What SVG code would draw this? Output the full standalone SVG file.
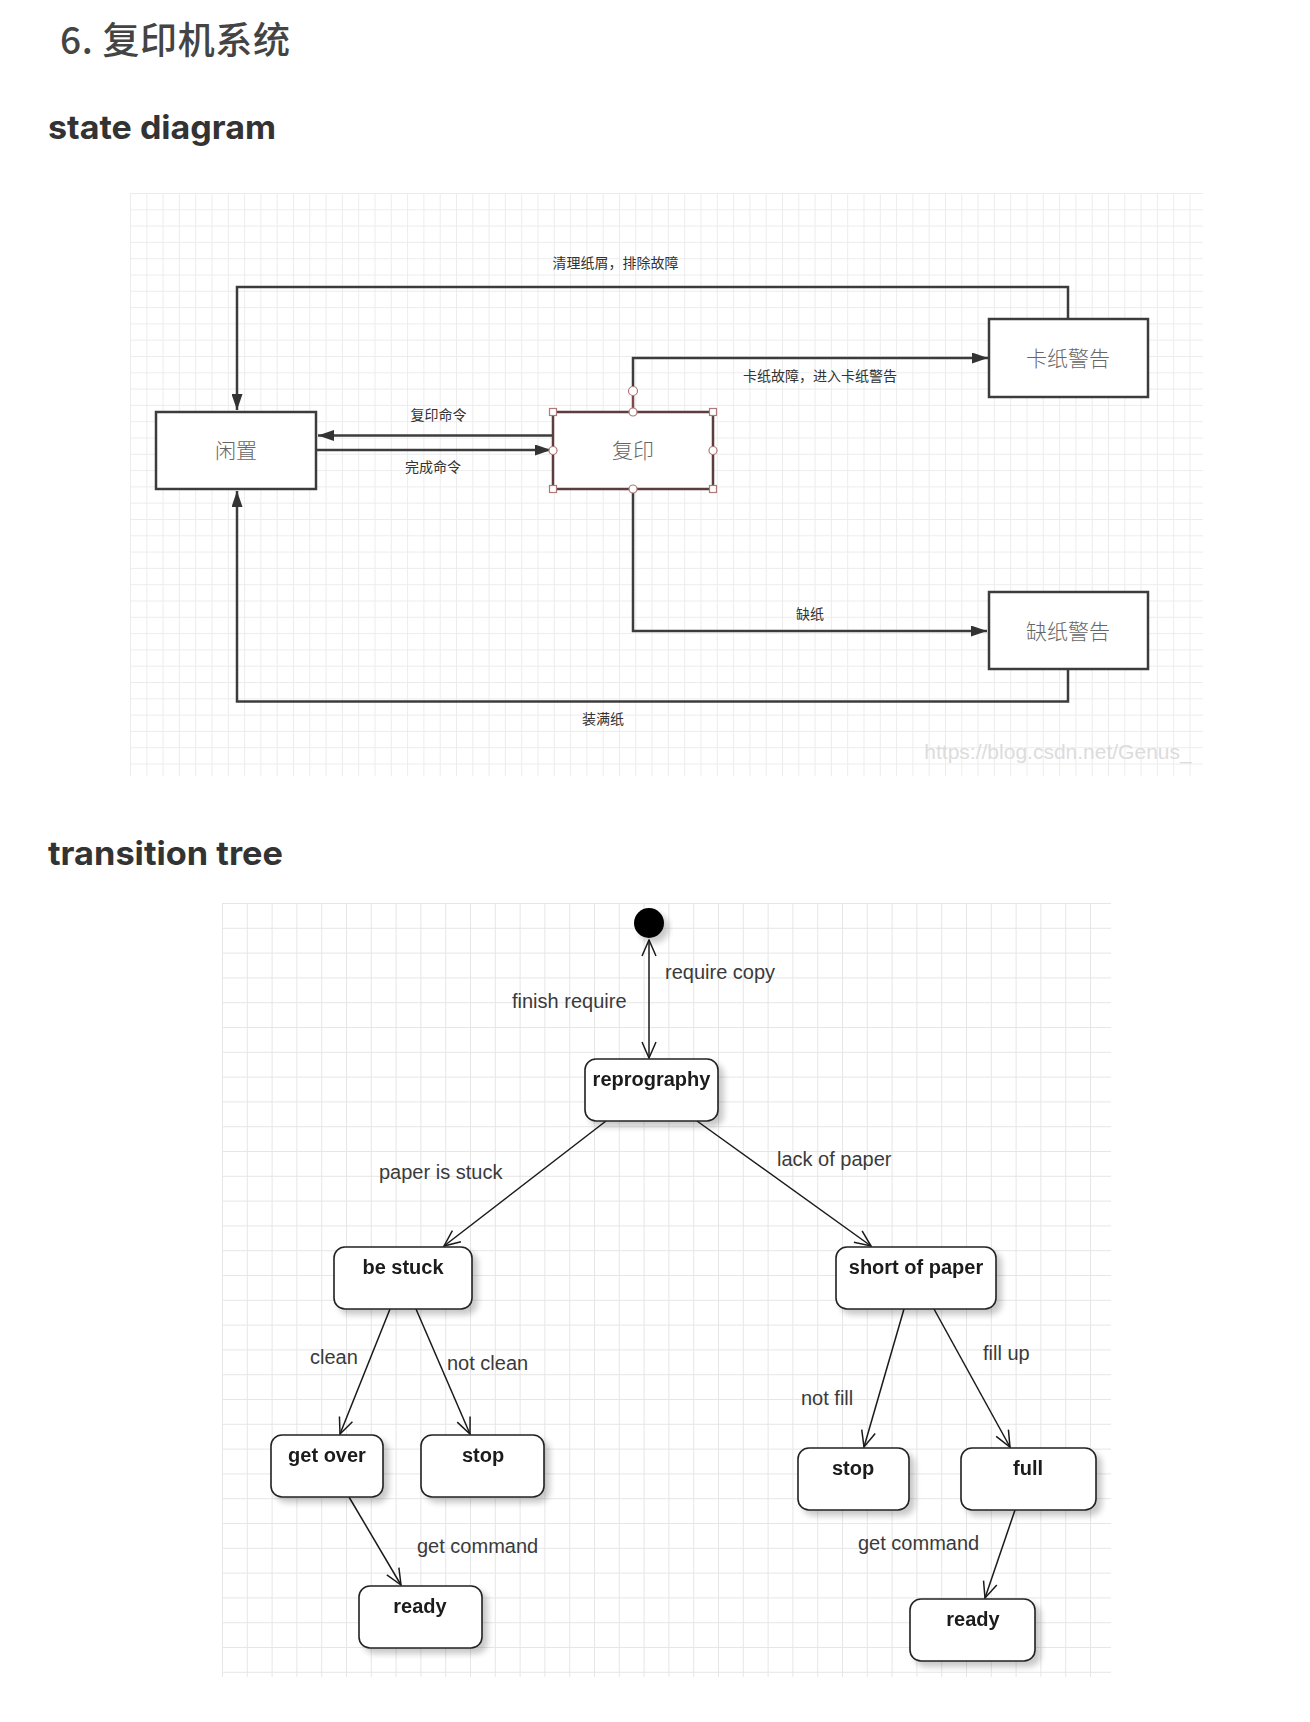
<svg xmlns="http://www.w3.org/2000/svg" width="1310" height="1722" viewBox="0 0 1310 1722">
<defs>
<style>
.h{font-family:Inter,"Liberation Sans","Noto Sans CJK SC",sans-serif;font-weight:700;fill:#333}
.title{font-family:"Noto Sans CJK SC","Noto Sans",sans-serif;font-weight:500;fill:#444}
.sbox{fill:#fff;stroke:#3c3c3c;stroke-width:2.5}
.sline{fill:none;stroke:#3c3c3c;stroke-width:2.5}
.slabel{font-family:"Noto Sans CJK SC",sans-serif;font-size:14px;fill:#333;text-anchor:middle}
.snode{font-family:"Noto Sans CJK SC",sans-serif;font-size:21px;font-weight:300;fill:#666;text-anchor:middle}
.hdl{fill:#fff;stroke:#b07878;stroke-width:1.2}
.tbox{fill:#fff;stroke:#222;stroke-width:1.6}
.tline{fill:none;stroke:#1a1a1a;stroke-width:1.5}
.tlabel{font-family:"Liberation Sans",Arial,sans-serif;font-size:20px;fill:#3a3a3a}
.tnode{font-family:"Liberation Sans",Arial,sans-serif;font-size:20px;font-weight:700;fill:#1a1a1a;text-anchor:middle}
</style>
<pattern id="g1" x="130" y="193" width="16.3" height="16.3" patternUnits="userSpaceOnUse">
<path d="M0.5 0V16.3M0 0.5H16.3" stroke="#ececec" stroke-width="1"/>
</pattern>
<pattern id="g2" x="222" y="903" width="24.8" height="24.8" patternUnits="userSpaceOnUse">
<path d="M0.5 0V24.8M0 0.5H24.8" stroke="#e6e6e6" stroke-width="1"/>
</pattern>
<marker id="fa" viewBox="0 0 16 11" refX="16" refY="5.5" markerWidth="16" markerHeight="11" markerUnits="userSpaceOnUse" orient="auto">
<path d="M0,0 L16,5.5 L0,11 Z" fill="#333"/>
</marker>
<marker id="va" viewBox="-1 -1 18 16" refX="16" refY="7" markerWidth="18" markerHeight="16" markerUnits="userSpaceOnUse" orient="auto-start-reverse">
<path d="M0,0 L16,7 L0,14" fill="none" stroke="#1a1a1a" stroke-width="1.5"/>
</marker>
<filter id="sh" x="-20%" y="-20%" width="150%" height="170%">
<feGaussianBlur in="SourceAlpha" stdDeviation="3"/>
<feOffset dx="5" dy="5" result="o"/>
<feComponentTransfer><feFuncA type="linear" slope="0.22"/></feComponentTransfer>
<feMerge><feMergeNode/><feMergeNode in="SourceGraphic"/></feMerge>
</filter>
</defs>
<rect width="1310" height="1722" fill="#fff"/>

<text class="title" x="60" y="54" font-size="37" textLength="230" lengthAdjust="spacing">6. 复印机系统</text>
<text class="h" x="48" y="138.5" font-size="33" textLength="228" lengthAdjust="spacingAndGlyphs">state diagram</text>
<text class="h" x="48" y="865" font-size="33" textLength="235" lengthAdjust="spacingAndGlyphs">transition tree</text>

<!-- state diagram -->
<g id="state-diagram">
<rect x="130" y="193" width="1073" height="583" fill="url(#g1)"/>
<text x="1058" y="759" font-family="'Liberation Sans',Arial,sans-serif" font-size="21" fill="#dcdcdc" text-anchor="middle">https://blog.csdn.net/Genus_</text>

<g id="state-connectors">
<path class="sline" d="M1068,319 V287 H237 V410" marker-end="url(#fa)"/>
<path class="sline" d="M633,386 V358 H988" marker-end="url(#fa)"/>
<path class="sline" d="M553,435.5 H318" marker-end="url(#fa)"/>
<path class="sline" d="M316,450 H551" marker-end="url(#fa)"/>
<path class="sline" d="M633,489 V631 H987" marker-end="url(#fa)"/>
<path class="sline" d="M1068,669 V701.5 H237 V491" marker-end="url(#fa)"/>
<text class="slabel" x="615.5" y="268">清理纸屑，排除故障</text>
<text class="slabel" x="820" y="381">卡纸故障，进入卡纸警告</text>
<text class="slabel" x="438.5" y="420">复印命令</text>
<text class="slabel" x="433" y="472">完成命令</text>
<text class="slabel" x="810" y="619">缺纸</text>
<text class="slabel" x="603" y="724">装满纸</text>
</g>

<g id="node-idle">
<rect class="sbox" x="156" y="412" width="160" height="77"/>
<text class="snode" x="236" y="458">闲置</text>
</g>
<g id="node-copy">
<path d="M633,395 V412" stroke="#7a4a4a" stroke-width="2.5"/>
<rect x="553" y="412" width="160" height="77" fill="#fff" stroke="#5b3e3e" stroke-width="2.5"/>
<text class="snode" x="633" y="458">复印</text>
<circle class="hdl" cx="633" cy="391" r="4.5"/>
<rect class="hdl" x="549.5" y="408.5" width="7" height="7"/>
<rect class="hdl" x="709.5" y="408.5" width="7" height="7"/>
<rect class="hdl" x="549.5" y="485.5" width="7" height="7"/>
<rect class="hdl" x="709.5" y="485.5" width="7" height="7"/>
<circle class="hdl" cx="633" cy="412" r="4"/>
<circle class="hdl" cx="633" cy="489" r="4"/>
<circle class="hdl" cx="553" cy="450.5" r="4"/>
<circle class="hdl" cx="713" cy="450.5" r="4"/>
</g>
<g id="node-jam">
<rect class="sbox" x="989" y="319" width="159" height="78"/>
<text class="snode" x="1068" y="366">卡纸警告</text>
</g>
<g id="node-nopaper">
<rect class="sbox" x="989" y="592" width="159" height="77"/>
<text class="snode" x="1068" y="639">缺纸警告</text>
</g>
</g>

<!-- transition tree -->
<g id="transition-tree">
<rect x="222" y="903" width="889" height="774" fill="url(#g2)"/>

<g id="tree-connectors">
<path class="tline" d="M649,940 L649,1058" marker-start="url(#va)" marker-end="url(#va)"/>
<path class="tline" d="M606,1121 L444,1246" marker-end="url(#va)"/>
<path class="tline" d="M697,1121 L871,1246" marker-end="url(#va)"/>
<path class="tline" d="M390,1309 L340,1434" marker-end="url(#va)"/>
<path class="tline" d="M416,1309 L470,1434" marker-end="url(#va)"/>
<path class="tline" d="M904,1309 L864,1447" marker-end="url(#va)"/>
<path class="tline" d="M934,1309 L1010,1447" marker-end="url(#va)"/>
<path class="tline" d="M349,1497 L401,1585" marker-end="url(#va)"/>
<path class="tline" d="M1015,1510 L985,1598" marker-end="url(#va)"/>
<text class="tlabel" x="665" y="979">require copy</text>
<text class="tlabel" x="512" y="1008">finish require</text>
<text class="tlabel" x="379" y="1179">paper is stuck</text>
<text class="tlabel" x="777" y="1166">lack of paper</text>
<text class="tlabel" x="310" y="1364">clean</text>
<text class="tlabel" x="447" y="1370">not clean</text>
<text class="tlabel" x="801" y="1405">not fill</text>
<text class="tlabel" x="983" y="1360">fill up</text>
<text class="tlabel" x="417" y="1553">get command</text>
<text class="tlabel" x="858" y="1550">get command</text>
</g>

<g id="t-init"><circle cx="649" cy="923" r="15" fill="#000" filter="url(#sh)"/></g>
<g id="t-reprography" filter="url(#sh)"><rect class="tbox" x="585" y="1059" width="133" height="62" rx="11"/><text class="tnode" x="651.5" y="1086">reprography</text></g>
<g id="t-bestuck" filter="url(#sh)"><rect class="tbox" x="334" y="1247" width="138" height="62" rx="11"/><text class="tnode" x="403" y="1274">be stuck</text></g>
<g id="t-short" filter="url(#sh)"><rect class="tbox" x="836" y="1247" width="160" height="62" rx="11"/><text class="tnode" x="916" y="1274">short of paper</text></g>
<g id="t-getover" filter="url(#sh)"><rect class="tbox" x="271" y="1435" width="112" height="62" rx="11"/><text class="tnode" x="327" y="1462">get over</text></g>
<g id="t-stop1" filter="url(#sh)"><rect class="tbox" x="421" y="1435" width="123" height="62" rx="11"/><text class="tnode" x="483" y="1462">stop</text></g>
<g id="t-stop2" filter="url(#sh)"><rect class="tbox" x="798" y="1448" width="111" height="62" rx="11"/><text class="tnode" x="853" y="1475">stop</text></g>
<g id="t-full" filter="url(#sh)"><rect class="tbox" x="961" y="1448" width="135" height="62" rx="11"/><text class="tnode" x="1028" y="1475">full</text></g>
<g id="t-ready1" filter="url(#sh)"><rect class="tbox" x="359" y="1586" width="123" height="62" rx="11"/><text class="tnode" x="420" y="1613">ready</text></g>
<g id="t-ready2" filter="url(#sh)"><rect class="tbox" x="910" y="1599" width="125" height="62" rx="11"/><text class="tnode" x="973" y="1626">ready</text></g>
</g>
</svg>
